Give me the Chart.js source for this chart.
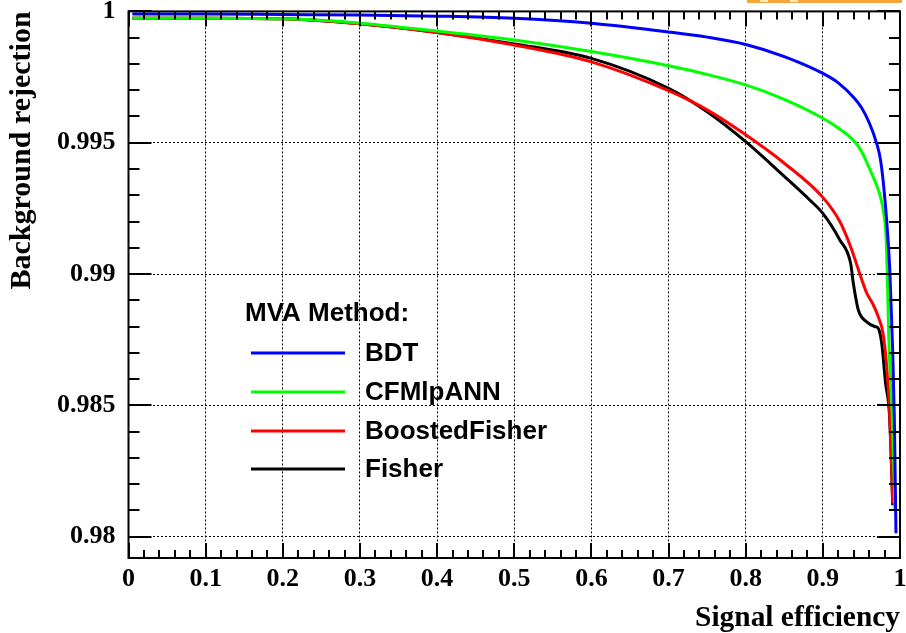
<!DOCTYPE html>
<html>
<head>
<meta charset="utf-8">
<script src="https://cdn.jsdelivr.net/npm/chart.js@4.4.1/dist/chart.umd.min.js"></script>
<style>
  html, body { margin: 0; padding: 0; background: #fff; }
  #wrap { width: 906px; height: 633px; }
</style>
</head>
<body>
<div id="wrap"><canvas id="c" width="906" height="633"></canvas></div>
<script>
// ---- data ----
const seriesNames = ["BDT", "CFMlpANN", "BoostedFisher", "Fisher"];
const seriesColors = ["#0000ff", "#00ff00", "#ff0000", "#000000"];

const effBDT = [0.005, 0.1, 0.2, 0.3, 0.4, 0.5, 0.6, 0.7, 0.75, 0.8, 0.85, 0.9, 0.92, 0.94, 0.95, 0.96, 0.97, 0.975, 0.98, 0.984, 0.987, 0.9905, 0.9926, 0.9948];
const rejBDT = [0.9999, 0.9999, 0.99988, 0.99986, 0.99982, 0.99974, 0.99955, 0.99922, 0.99902, 0.99874, 0.99828, 0.99764, 0.99728, 0.99672, 0.99634, 0.99577, 0.99495, 0.9943, 0.9930, 0.9915, 0.990, 0.98711, 0.98457, 0.98013];

const effANN = [0.005, 0.1, 0.2, 0.25, 0.3, 0.4, 0.5, 0.6, 0.7, 0.75, 0.8, 0.85, 0.9, 0.92, 0.94, 0.95, 0.96, 0.97, 0.975, 0.979, 0.982, 0.9835, 0.9853, 0.99, 0.9935];
const rejANN = [0.99974, 0.99974, 0.99972, 0.99966, 0.99955, 0.99925, 0.99891, 0.99847, 0.99793, 0.9976, 0.9972, 0.99665, 0.99593, 0.99556, 0.99508, 0.99468, 0.99405, 0.99335, 0.9929, 0.9923, 0.9914, 0.990, 0.98774, 0.9845, 0.981];

const effBFisher = [0.005, 0.1, 0.2, 0.3, 0.4, 0.5, 0.6, 0.7, 0.75, 0.8, 0.85, 0.9, 0.922, 0.936, 0.948, 0.957, 0.965, 0.9719, 0.978, 0.9828, 0.9862, 0.9892, 0.9905];
const rejBFisher = [0.99974, 0.99974, 0.99972, 0.99953, 0.9992, 0.99872, 0.99808, 0.99698, 0.99625, 0.9953, 0.99422, 0.99292, 0.9920, 0.99104, 0.990, 0.98927, 0.98885, 0.98837, 0.98774, 0.98647, 0.98495, 0.98266, 0.98127];

const effFisher = [0.005, 0.1, 0.2, 0.3, 0.4, 0.5, 0.6, 0.7, 0.75, 0.8, 0.85, 0.883, 0.9, 0.922, 0.936, 0.9395, 0.946, 0.9568, 0.9676, 0.9719, 0.9763, 0.9813, 0.9862, 0.9892, 0.9905];
const rejFisher = [0.99974, 0.99974, 0.99972, 0.99953, 0.9992, 0.99876, 0.99821, 0.99707, 0.99618, 0.99504, 0.99372, 0.99282, 0.99231, 0.9913, 0.99041, 0.98965, 0.98863, 0.98818, 0.988, 0.98793, 0.98736, 0.98585, 0.9847, 0.9825, 0.9812];

const xTickValues = [0, 0.1, 0.2, 0.3, 0.4, 0.5, 0.6, 0.7, 0.8, 0.9, 1];
const yTickValues = [0.98, 0.985, 0.99, 0.995, 1];
const xRange = [0, 1];
const yRange = [0.97919, 1.0];
const xMinorStep = 0.02;
const yMinorStep = 0.001;
const xTitle = "Signal efficiency";
const yTitle = "Background rejection";
const legendHeader = "MVA Method:";

// ---- build datasets ----
function pts(xs, ys) { return xs.map((x, i) => ({ x: x, y: ys[i] })); }
const allEff = [effBDT, effANN, effBFisher, effFisher];
const allRej = [rejBDT, rejANN, rejBFisher, rejFisher];
const datasets = seriesNames.map((n, i) => ({
  label: n,
  data: pts(allEff[i], allRej[i]),
  borderColor: seriesColors[i],
  backgroundColor: seriesColors[i],
  borderWidth: 3,
  pointRadius: 0,
  fill: false,
  cubicInterpolationMode: 'monotone'
}));

const serifTick = { family: "'Liberation Serif', 'Times New Roman', serif", weight: 'bold', size: 26, lineHeight: 1.2 };
const serifTitleY = { family: "'Liberation Serif', 'Times New Roman', serif", weight: 'bold', size: 30, lineHeight: 1.0 };
const serifTitleX = { family: "'Liberation Serif', 'Times New Roman', serif", weight: 'bold', size: 29.4, lineHeight: 1.0 };

function fmt(v) { return String(Number(v.toFixed(4))); }
function noPad(s) { s.paddingTop = 0; s.paddingBottom = 0; s.paddingLeft = 0; s.paddingRight = 0; }

// ---- ROOT-style frame, inner ticks, legend ----
const rootPlugin = {
  id: 'rootStyle',
  afterDatasetsDraw(chart) {
    const ctx = chart.ctx;
    const a = chart.chartArea;
    const xs = chart.scales.x, ys = chart.scales.y;
    ctx.save();
    ctx.strokeStyle = '#000';
    ctx.lineWidth = 2;
    ctx.beginPath();
    const nx = Math.round((xRange[1] - xRange[0]) / xMinorStep);
    for (let i = 0; i <= nx; i++) {
      const v = xRange[0] + i * xMinorStep;
      const major = (i % 5 === 0);
      const len = major ? 15 : 8;
      const px = Math.round(xs.getPixelForValue(v));
      ctx.moveTo(px, a.bottom); ctx.lineTo(px, a.bottom - len);
      ctx.moveTo(px, a.top); ctx.lineTo(px, a.top + len);
    }
    const start = Math.ceil((yRange[0] - 1e-9) / yMinorStep);
    const end = Math.floor((yRange[1] + 1e-9) / yMinorStep);
    for (let k = start; k <= end; k++) {
      const v = k * yMinorStep;
      const major = (k % 5 === 0);
      const len = major ? 23 : 11;
      const py = Math.round(ys.getPixelForValue(v));
      ctx.moveTo(a.left, py); ctx.lineTo(a.left + len, py);
      ctx.moveTo(a.right, py); ctx.lineTo(a.right - len, py);
    }
    ctx.stroke();
    ctx.strokeRect(a.left, a.top, a.right - a.left, a.bottom - a.top);

    // legend
    const lx0 = 251, lx1 = 345, tx = 365;
    ctx.fillStyle = '#000';
    ctx.font = "bold 26px 'Liberation Sans', Arial, sans-serif";
    ctx.textBaseline = 'middle';
    ctx.textAlign = 'left';
    ctx.fillText(legendHeader, 245, 314);
    const rows = [353, 392, 431, 469];
    chart.data.datasets.forEach((ds, i) => {
      const y = rows[i];
      ctx.strokeStyle = ds.borderColor;
      ctx.lineWidth = 3;
      ctx.beginPath();
      ctx.moveTo(lx0, y); ctx.lineTo(lx1, y);
      ctx.stroke();
      ctx.fillStyle = '#000';
      ctx.fillText(ds.label, tx, y + 1);
    });

    // cropped logo strip at the top right
    ctx.fillStyle = '#f7a43a';
    ctx.fillRect(747, 0, 155, 3);
    ctx.fillStyle = '#fde6c4';
    ctx.fillRect(760, 0, 8, 2);
    ctx.fillRect(790, 0, 8, 2);
    ctx.restore();
  }
};

new Chart(document.getElementById('c'), {
  type: 'line',
  data: { datasets: datasets },
  plugins: [rootPlugin],
  options: {
    responsive: false,
    animation: false,
    events: [],
    layout: { padding: { top: 11.4, right: 6, left: 0, bottom: 0 } },
    plugins: { legend: { display: false }, tooltip: { enabled: false } },
    scales: {
      x: {
        type: 'linear',
        min: xRange[0], max: xRange[1],
        afterFit(s) { s.height = 75; noPad(s); },
        afterBuildTicks(s) { s.ticks = xTickValues.map(v => ({ value: v })); },
        ticks: {
          autoSkip: false, maxRotation: 0, padding: 6,
          color: '#000', font: serifTick,
          callback: v => fmt(v)
        },
        grid: {
          color: ctx => (ctx.tick && (ctx.tick.value === xRange[0] || ctx.tick.value === xRange[1])) ? 'rgba(0,0,0,0)' : '#000',
          lineWidth: 1, drawTicks: false
        },
        border: { display: false, dash: [2, 2] },
        title: {
          display: true, text: xTitle, align: 'end', color: '#000',
          font: serifTitleX, padding: { top: 0, bottom: 0 }
        }
      },
      y: {
        type: 'linear',
        min: yRange[0], max: yRange[1],
        afterFit(s) { s.width = 128.5; noPad(s); },
        afterBuildTicks(s) { s.ticks = yTickValues.map(v => ({ value: v })); },
        ticks: {
          autoSkip: false, padding: 13,
          color: '#000', font: serifTick,
          callback: v => fmt(v)
        },
        grid: {
          color: ctx => (ctx.tick && ctx.tick.value === yRange[1]) ? 'rgba(0,0,0,0)' : '#000',
          lineWidth: 1, drawTicks: false
        },
        border: { display: false, dash: [2, 2] },
        title: {
          display: true, text: yTitle, align: 'end', color: '#000',
          font: serifTitleY, padding: { top: 7, bottom: 0 }
        }
      }
    }
  }
});
</script>
</body>
</html>
